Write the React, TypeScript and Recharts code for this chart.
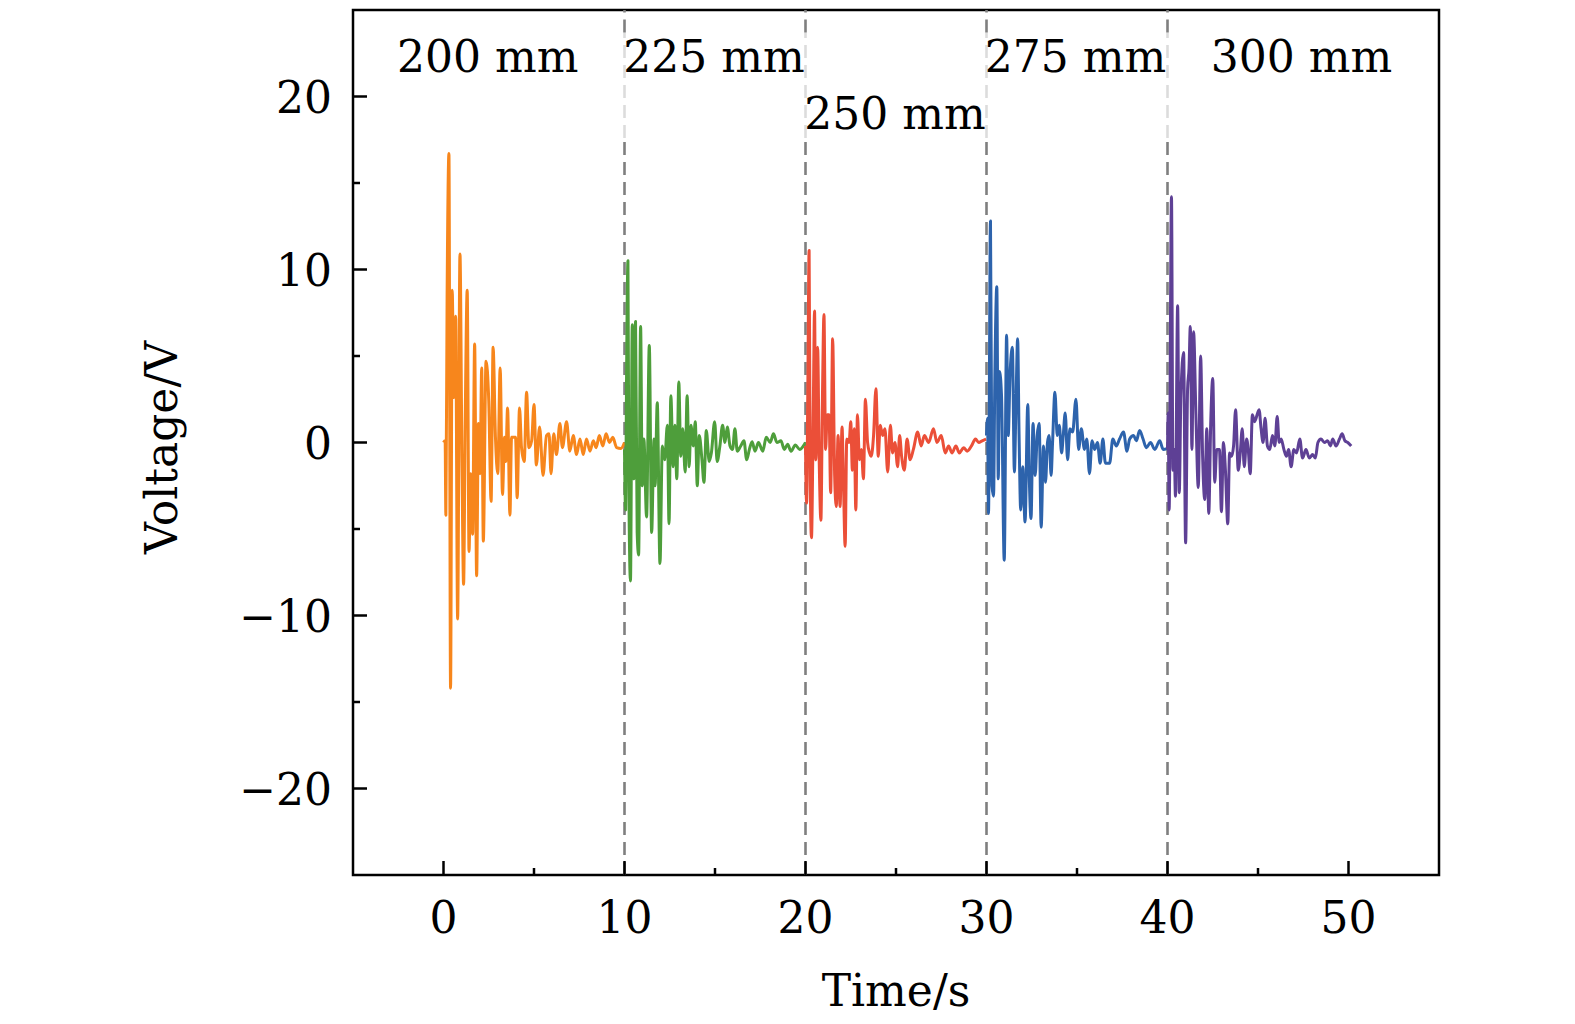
import React from "react"
import {
  LineChart,
  Line,
  XAxis,
  YAxis,
  ReferenceLine,
  ReferenceArea,
  ReferenceDot,
} from "recharts"

// [time (s), voltage (V)], one array per distance
const wave200: [number, number][] = [
  [0.0, 0], [0.09, 0.1], [0.13, -4.2], [0.2, 8.6], [0.3, 16.7], [0.39, -14.2], [0.48, 8.8], [0.57, 2.6],
  [0.67, 7.3], [0.78, -10.2], [0.91, 10.9], [1.02, -1.1], [1.11, -8.2], [1.2, 1.3], [1.31, 8.8], [1.41, -6.3],
  [1.5, -1.8], [1.61, -5.3], [1.72, 5.7], [1.83, -7.7], [1.93, 1.1], [2.02, -1.8], [2.11, 4.3], [2.2, -5.7],
  [2.35, 4.7], [2.5, 2.4], [2.63, -3.4], [2.74, 5.5], [2.87, 0.3], [3.0, -1.8], [3.13, 4.3], [3.26, -3.0],
  [3.37, 0.3], [3.44, -1.1], [3.54, 2.0], [3.67, -4.2], [3.76, 0.3], [3.89, 0.3], [3.98, 0.3], [4.07, -3.2],
  [4.2, 2.0], [4.31, -0.3], [4.46, -1.1], [4.59, 2.9], [4.72, -0.3], [4.87, 0.1], [5.0, 2.2], [5.13, -1.3],
  [5.31, 0.9], [5.5, -1.9], [5.69, 0.4], [5.83, 0.5], [5.94, -1.8], [6.09, 0.5], [6.24, -0.7], [6.43, 1.1],
  [6.57, -0.3], [6.8, 1.2], [6.98, -0.5], [7.17, 0.4], [7.35, -0.7], [7.54, 0.2], [7.72, -0.7], [7.9, 0.2],
  [8.09, -0.5], [8.28, 0.1], [8.43, -0.3], [8.61, 0.4], [8.8, -0.2], [8.98, 0.5], [9.17, 0.0], [9.35, 0.3],
  [9.57, -0.3], [9.8, -0.35], [10.0, 0],
]

const wave225: [number, number][] = [
  [10.0, -0.4], [10.06, -3.9], [10.11, 3.3], [10.19, 10.5], [10.24, -2.5], [10.33, -8.0], [10.43, 6.8],
  [10.52, -2.1], [10.61, 7.0], [10.7, -5.2], [10.78, -6.5], [10.89, 6.7], [10.98, -2.5], [11.07, 0.2],
  [11.22, -4.3], [11.37, 5.6], [11.5, -5.2], [11.63, 0.2], [11.69, -2.5], [11.81, 2.3], [11.96, -7.0],
  [12.09, -0.2], [12.22, -1.0], [12.37, 1.0], [12.46, -4.7], [12.56, 2.7], [12.69, -1.4], [12.78, 1.0],
  [12.89, -2.1], [13.0, 3.5], [13.11, -0.8], [13.22, 0.8], [13.35, -1.7], [13.46, 2.7], [13.57, -1.4],
  [13.67, 1.0], [13.8, -0.2], [13.91, 1.2], [14.02, -2.5], [14.13, 0.4], [14.28, -1.0], [14.39, -2.3],
  [14.52, 0.7], [14.68, -1.1], [14.8, -0.6], [14.98, 1.2], [15.12, -1.1], [15.27, -0.2], [15.42, 1.0],
  [15.55, 0], [15.68, 0.9], [15.83, -0.2], [15.97, -0.4], [16.1, 0.8], [16.23, -0.5], [16.42, -0.2],
  [16.6, 0.1], [16.75, -1.0], [16.9, -0.4], [17.05, 0.05], [17.21, -0.5], [17.4, 0], [17.64, -0.5],
  [17.83, 0.3], [18.05, 0], [18.23, 0.5], [18.42, 0], [18.64, 0.1], [18.83, -0.4], [19.01, -0.1],
  [19.2, -0.5], [19.44, -0.15], [19.68, -0.4], [20.0, 0],
]

const wave250: [number, number][] = [
  [20.0, -0.2], [20.06, -3.5], [20.13, 3.3], [20.2, 11.1], [20.26, -1.9], [20.33, -5.5], [20.43, 1.9],
  [20.5, 7.6], [20.57, -1.0], [20.67, 5.5], [20.76, -1.2], [20.85, -4.5], [20.94, 2.9], [21.02, 7.4],
  [21.11, -0.4], [21.2, 1.6], [21.3, 1.6], [21.39, -2.9], [21.5, 6.0], [21.61, -1.9], [21.7, -3.7],
  [21.8, 0.4], [21.91, -3.7], [22.02, 0.9], [22.09, -1.9], [22.19, -6.0], [22.28, 0.2], [22.41, 0],
  [22.5, 1.2], [22.59, -1.6], [22.69, 0.8], [22.78, -3.9], [22.87, 1.6], [22.98, -1.0], [23.09, -0.4],
  [23.2, -2.1], [23.31, 2.5], [23.43, 0], [23.54, -0.6], [23.63, -0.8], [23.76, 0.4], [23.89, 3.1],
  [24.02, -0.8], [24.13, 1.0], [24.26, 0.4], [24.39, 0.8], [24.54, -1.7], [24.69, 1.0], [24.81, -0.6],
  [24.94, 0], [25.09, -1.4], [25.2, 0.4], [25.31, -0.8], [25.46, -1.6], [25.61, 0.2], [25.78, -1.0],
  [25.96, -0.4], [26.2, 0.6], [26.39, -0.2], [26.57, 0.4], [26.8, 0], [27.07, 0.8], [27.26, 0],
  [27.5, 0.4], [27.72, -0.6], [27.91, -0.2], [28.09, -0.6], [28.31, -0.2], [28.5, -0.6], [28.74, -0.3],
  [28.93, -0.5], [29.17, -0.2], [29.39, 0.2], [29.57, 0], [29.76, 0.1], [29.98, 0.2],
]

const wave275: [number, number][] = [
  [30.0, 0.4], [30.06, 1.4], [30.11, -4.1], [30.22, 12.8], [30.3, -2.5], [30.39, -3.1], [30.46, 3.7],
  [30.57, 9.0], [30.65, -2.1], [30.72, 4.1], [30.83, 2.7], [30.98, -6.8], [31.11, 6.2], [31.2, 0.4],
  [31.3, 3.9], [31.43, 5.5], [31.54, -1.7], [31.63, 2.3], [31.72, 6.0], [31.8, 0.4], [31.89, -3.9],
  [32.0, -1.4], [32.13, -4.6], [32.28, 2.2], [32.37, -2.3], [32.46, -4.4], [32.57, 1.1], [32.69, -1.9],
  [32.8, 0.4], [32.91, 1.1], [33.02, -4.9], [33.15, -0.2], [33.26, -2.3], [33.37, 0], [33.46, 0.4],
  [33.57, -1.9], [33.65, 0], [33.78, 2.9], [33.91, 0.4], [34.02, 1.0], [34.15, -0.6], [34.24, 0.4],
  [34.35, 1.7], [34.48, -1.0], [34.61, 0.8], [34.76, 0.6], [34.94, 2.5], [35.09, -0.4], [35.24, 0.8],
  [35.41, -0.4], [35.54, 0.2], [35.69, -1.8], [35.83, 0.1], [35.98, -0.4], [36.13, 0], [36.28, -1.2],
  [36.43, 0.2], [36.57, -1.2], [36.8, -1.2], [36.98, 0.2], [37.17, -0.2], [37.35, 0.2], [37.57, 0.6],
  [37.76, -0.5], [37.91, 0.2], [38.13, 0.4], [38.28, 0.1], [38.46, 0.7], [38.65, 0.2], [38.83, -0.3],
  [39.06, 0], [39.3, -0.4], [39.57, 0.1], [39.76, -0.4], [39.98, -0.35],
]

const wave300: [number, number][] = [
  [40.0, -0.4], [40.04, 1.7], [40.09, -3.9], [40.22, 14.2], [40.3, -1.6], [40.37, -0.4], [40.44, -3.1],
  [40.56, 7.9], [40.65, -2.9], [40.74, 2.7], [40.89, 5.2], [41.0, -5.8], [41.11, 3.1], [41.19, 4.3],
  [41.26, 6.7], [41.35, -0.4], [41.44, 6.4], [41.57, 1.6], [41.7, -2.6], [41.83, 5.0], [41.94, -0.8],
  [42.06, -3.3], [42.17, 0.8], [42.28, -4.1], [42.39, 1.2], [42.5, 3.7], [42.61, -2.3], [42.72, -0.4],
  [42.87, -0.4], [42.98, -4.0], [43.09, 0], [43.2, -1.6], [43.33, -4.7], [43.43, -0.6], [43.54, -0.8],
  [43.65, -0.2], [43.76, 1.9], [43.91, -1.6], [44.02, -0.6], [44.13, 0.8], [44.24, -1.4], [44.37, 0.2],
  [44.46, -0.4], [44.57, -1.8], [44.69, 1.6], [44.81, 1.2], [45.06, 1.9], [45.17, 0.8], [45.28, 0],
  [45.39, 1.4], [45.52, -0.2], [45.65, -0.4], [45.8, 0.4], [45.93, -0.2], [46.06, 1.5], [46.17, 0],
  [46.28, 0.2], [46.43, -0.4], [46.57, -0.8], [46.69, -0.4], [46.83, -1.4], [46.98, -0.4], [47.13, -0.6],
  [47.31, 0.2], [47.46, -0.9], [47.65, -0.4], [47.83, -0.9], [48.02, -0.7], [48.17, -0.9], [48.31, 0],
  [48.48, 0.2], [48.67, 0], [48.85, 0.1], [49.0, -0.2], [49.13, 0.2], [49.31, -0.2], [49.5, 0.2],
  [49.65, 0.5], [49.8, 0.1], [49.96, 0], [50.15, -0.2],
]

const seriesColors = ["#F7861C", "#4E9E3B", "#EB4F38", "#2D63AC", "#5E4095"]
const boundaries = [10, 20, 30, 40]
const distanceLabels = ["200 mm", "225 mm", "250 mm", "275 mm", "300 mm"]
// label anchor points in data units (time, voltage)
const labelTimes = [2.44, 14.94, 24.94, 34.92, 47.4]
const labelVolts = [22.3, 22.3, 19.0, 22.3, 22.3]

const xTicks = [0, 5, 10, 15, 20, 25, 30, 35, 40, 45, 50]
const yTicks = [-20, -15, -10, -5, 0, 5, 10, 15, 20]

const FONT = "'DejaVu Serif', serif"
const FS = 44

const toPoints = (arr: [number, number][]) => arr.map(([t, v]) => ({ t, v }))
const waves = [wave200, wave225, wave250, wave275, wave300].map(toPoints)

const fmt = (v: number) => (v < 0 ? `\u2212${-v}` : `${v}`)

function XTick(props: any) {
  const { x, y, payload } = props
  const major = payload.value % 10 === 0
  return (
    <g>
      <line x1={x} x2={x} y1={y} y2={y - (major ? 14 : 7)} stroke="#000" strokeWidth={2.5} />
      {major && (
        <text x={x} y={y + 58} textAnchor="middle" fontFamily={FONT} fontSize={FS} fill="#000">
          {fmt(payload.value)}
        </text>
      )}
    </g>
  )
}

function YTick(props: any) {
  const { x, y, payload } = props
  const major = payload.value % 10 === 0
  return (
    <g>
      <line x1={x} x2={x + (major ? 14 : 7)} y1={y} y2={y} stroke="#000" strokeWidth={2.5} />
      {major && (
        <text x={x - 21} y={y + 16} textAnchor="end" fontFamily={FONT} fontSize={FS} fill="#000">
          {fmt(payload.value)}
        </text>
      )}
    </g>
  )
}

export default function App() {
  return (
    <LineChart
      width={1559}
      height={1008}
      margin={{ top: 2, right: 128, bottom: 0, left: 0 }}
      style={{ fontFamily: FONT }}
    >
      <XAxis
        dataKey="t"
        type="number"
        domain={[-5, 55]}
        ticks={xTicks}
        allowDataOverflow
        axisLine={false}
        tickLine={false}
        tickSize={0}
        tickMargin={0}
        tick={<XTick />}
        height={141}
        interval={0}
        label={{ value: "Time/s", position: "insideBottom", offset: 10, fontSize: FS, fontFamily: FONT, fill: "#000" }}
      />
      <YAxis
        type="number"
        domain={[-25, 25]}
        ticks={yTicks}
        allowDataOverflow
        axisLine={false}
        tickLine={false}
        tickSize={0}
        tickMargin={0}
        tick={<YTick />}
        width={345}
        interval={0}
        label={{
          value: "Voltage/V",
          angle: -90,
          position: "insideLeft",
          offset: 153,
          dy: 5,
          fontSize: FS,
          fontFamily: FONT,
          fill: "#000",
          style: { textAnchor: "middle" },
        }}
      />
      {boundaries.map((b) => (
        <ReferenceLine
          key={`d${b}`}
          segment={[{ x: b, y: -25 }, { x: b, y: 17.6 }]}
          stroke="#7f7f7f"
          strokeWidth={2.6}
          strokeDasharray="13 7"
        />
      ))}
      {boundaries.map((b) => (
        <ReferenceLine
          key={`l${b}`}
          segment={[{ x: b, y: 17.6 }, { x: b, y: 23.7 }]}
          stroke="#dcdcdc"
          strokeWidth={2.6}
          strokeDasharray="13 7"
        />
      ))}
      {boundaries.map((b) => (
        <ReferenceLine
          key={`u${b}`}
          segment={[{ x: b, y: 23.7 }, { x: b, y: 25 }]}
          stroke="#7f7f7f"
          strokeWidth={2.6}
          strokeDasharray="13 7"
        />
      ))}
      {waves.map((w, i) => (
        <Line
          key={distanceLabels[i]}
          data={w}
          dataKey="v"
          type="monotoneX"
          stroke={seriesColors[i]}
          strokeWidth={3}
          strokeLinejoin="round"
          dot={false}
          activeDot={false}
          isAnimationActive={false}
        />
      ))}
      {distanceLabels.map((lab, i) => (
        <ReferenceDot
          key={lab}
          x={labelTimes[i]}
          y={labelVolts[i]}
          r={0}
          fill="none"
          stroke="none"
          label={{ value: lab, position: "center", fontSize: FS, fontFamily: FONT, fill: "#000" }}
        />
      ))}
      <ReferenceArea x1={-5} x2={55} y1={-25} y2={25} fill="none" stroke="#000" strokeWidth={2.5} />
    </LineChart>
  )
}
